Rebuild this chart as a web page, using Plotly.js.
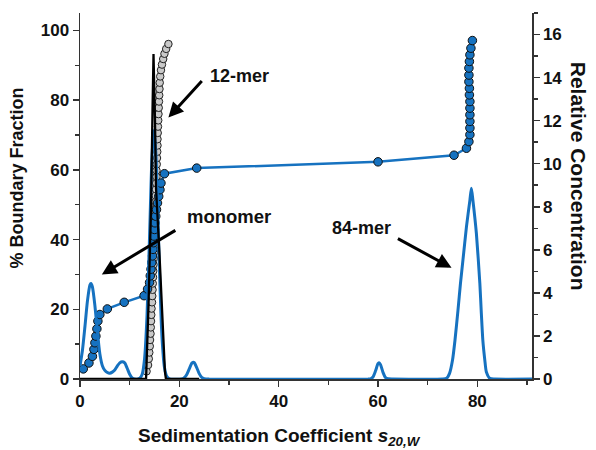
<!DOCTYPE html>
<html>
<head>
<meta charset="utf-8">
<script src="https://cdn.plot.ly/plotly-3.0.1.min.js"></script>
<style>html,body{margin:0;padding:0;background:#fff;}</style>
</head>
<body>
<div id="chart" style="width:596px;height:450px;"></div>
<script>
// Boundary fraction (blue, van Holde-Weischet of mixture)
const mixS = [0.66, 1.8, 2.5, 2.8, 3.0, 3.2, 3.4, 3.6, 4.0, 5.5,
  8.9, 12.9, 13.6, 14.0, 14.15, 14.3, 14.45, 14.6, 14.7, 14.8,
  14.9, 15.0, 15.1, 15.25, 15.4, 15.6, 15.85, 16.1, 16.3, 17.0,
  23.5, 60.0, 75.3, 77.8, 78.3, 78.5, 78.5, 78.5, 78.5, 78.5,
  78.5, 78.4, 78.4, 78.3, 78.3, 78.3, 78.4, 78.5, 78.7, 79.0];
const mixPct = [2.9, 4.6, 6.5, 8.5, 10.4, 12.3, 14.4, 16.6, 18.5, 20.1,
  22.0, 23.9, 25.8, 27.7, 29.6, 31.5, 33.4, 35.3, 37.2, 39.1,
  41.0, 42.9, 44.8, 46.7, 48.6, 50.5, 52.4, 54.3, 56.2, 58.9,
  60.5, 62.3, 64.2, 66.2, 68.1, 70.1, 72.0, 73.9, 75.8, 77.7,
  79.6, 81.5, 83.4, 85.3, 87.2, 89.2, 91.1, 93.0, 94.9, 97.1];

// Boundary fraction (gray, 12-mer alone)
const merS = [13.4, 13.7, 13.85, 13.95, 14.05, 14.1, 14.2, 14.25, 14.3, 14.35,
  14.4, 14.5, 14.55, 14.6, 14.65, 14.7, 14.75, 14.8, 14.85, 14.9,
  14.95, 15.0, 15.0, 15.05, 15.1, 15.15, 15.2, 15.2, 15.25, 15.3,
  15.35, 15.4, 15.4, 15.45, 15.5, 15.55, 15.6, 15.6, 15.65, 15.7,
  15.75, 15.8, 15.85, 15.9, 15.95, 16.0, 16.05, 16.15, 16.3, 16.5,
  16.75, 17.0, 17.35, 17.8];
const merPct = [2.2, 4.0, 5.8, 7.6, 9.4, 11.2, 13.0, 14.8, 16.6, 18.4,
  20.2, 22.0, 23.8, 25.6, 27.4, 29.2, 31.0, 32.8, 34.6, 36.4,
  38.2, 40.0, 41.8, 43.6, 45.4, 47.2, 49.0, 50.8, 52.6, 54.4,
  56.2, 58.0, 59.8, 61.6, 63.4, 65.2, 67.0, 68.8, 70.6, 72.4,
  74.2, 76.0, 77.8, 79.6, 81.4, 83.2, 85.0, 86.8, 88.6, 90.2,
  91.8, 93.3, 94.7, 96.1];

// Relative concentration, 12-mer alone (black)
const blkS = [0, 13.3, 13.8, 14.3, 14.6, 14.8, 15.1, 15.3, 16.0, 16.6, 17.1, 17.3, 24];
const blkC = [0, 0, 3.5, 8.0, 12.5, 15.1, 12.0, 8.9, 5.8, 2.6, 0.34, 0, 0];

// Relative concentration, mixture (blue)
const concS = [0, 0.5, 1.0, 1.5, 2.0, 2.2, 2.5, 3.0, 3.5, 4.0,
  4.5, 5.0, 5.5, 6.0, 6.5, 7.0, 7.5, 8.0, 8.5, 9.0,
  9.5, 10.0, 10.5, 11.0, 12.0, 12.5, 13.0, 13.5, 14.0, 14.5,
  14.9, 15.3, 15.7, 16.0, 16.5, 17.0, 17.5, 18.0, 20.5, 21.0,
  21.5, 22.0, 22.5, 22.8, 23.0, 23.5, 24.0, 24.5, 25.0, 26.0,
  58.0, 58.5, 59.0, 59.5, 60.0, 60.2, 60.5, 61.0, 61.5, 62.0,
  63.0, 73.0, 73.8, 74.4, 75.0, 75.5, 76.1, 76.6, 77.1, 77.8,
  78.5, 78.8, 79.1, 79.8, 80.5, 80.8, 81.1, 81.5, 81.8, 82.5,
  83.5, 91];
const concC = [0.6, 1.35, 2.45, 3.63, 4.37, 4.44, 4.28, 3.41, 2.21, 1.16,
  0.62, 0.4, 0.3, 0.27, 0.32, 0.42, 0.6, 0.75, 0.8, 0.75,
  0.5, 0.22, 0.05, 0, 0.03, 0.21, 0.95, 2.98, 6.61, 10.36,
  11.57, 10.36, 7.43, 5.01, 1.97, 0.55, 0.11, 0, 0, 0.06,
  0.21, 0.47, 0.73, 0.78, 0.76, 0.53, 0.25, 0.08, 0.02, 0,
  0, 0.01, 0.10, 0.38, 0.72, 0.76, 0.67, 0.31, 0.07, 0.01,
  0, 0, 0.03, 0.26, 0.88, 1.81, 3.2, 4.44, 5.53, 7.07,
  8.31, 8.86, 8.31, 6.77, 4.44, 3.05, 1.81, 0.88, 0.34, 0.03,
  0, 0];

const xTicks = [0, 20, 40, 60, 80];
const pctTicks = [0, 20, 40, 60, 80, 100];
const concTicks = [0, 2, 4, 6, 8, 10, 12, 14, 16];

const BLUE = '#1672c0';
const FONT = 'Liberation Sans, Arial, Helvetica, sans-serif';
const tickFont = {family: FONT, size: 17, color: '#111', weight: 'bold'};

const traces = [
  {x: merS, y: merPct, type: 'scatter', mode: 'markers', xaxis: 'x', yaxis: 'y',
   marker: {color: '#c9c9c9', size: 7.5, line: {color: '#222', width: 1}}, hoverinfo: 'skip'},
  {x: mixS, y: mixPct, type: 'scatter', mode: 'lines+markers', xaxis: 'x', yaxis: 'y',
   line: {color: BLUE, width: 2.5},
   marker: {color: BLUE, size: 8.5, line: {color: '#111', width: 1}}, hoverinfo: 'skip'},
  {x: concS, y: concC, type: 'scatter', mode: 'lines', xaxis: 'x', yaxis: 'y2',
   line: {color: BLUE, width: 3, shape: 'spline', smoothing: 0.6}, hoverinfo: 'skip'},
  {x: blkS, y: blkC, type: 'scatter', mode: 'lines', xaxis: 'x', yaxis: 'y2',
   line: {color: '#000', width: 2.3}, hoverinfo: 'skip'}
];

const axisCommon = {
  showline: true, linecolor: '#333', linewidth: 1.5, ticks: 'outside', ticklen: 6,
  tickwidth: 1.5, tickcolor: '#333', showgrid: false, zeroline: false,
  tickfont: tickFont, fixedrange: true
};

const layout = {
  width: 596, height: 450,
  margin: {l: 80, r: 64, t: 13, b: 71},
  paper_bgcolor: '#fff', plot_bgcolor: '#fff',
  showlegend: false,
  xaxis: Object.assign({}, axisCommon, {
    range: [0, 91], tickmode: 'array', tickvals: xTicks, ticktext: xTicks.map(String),
    minor: {tickmode: 'linear', tick0: 0, dtick: 10, ticks: 'outside', ticklen: 4, tickwidth: 1.5, tickcolor: '#333'}
  }),
  yaxis: Object.assign({}, axisCommon, {
    range: [0, 105], side: 'left', tickmode: 'array', tickvals: pctTicks, ticktext: pctTicks.map(String),
    minor: {tickmode: 'linear', tick0: 0, dtick: 10, ticks: 'outside', ticklen: 4, tickwidth: 1.5, tickcolor: '#333'}
  }),
  yaxis2: Object.assign({}, axisCommon, {
    range: [0, 17], side: 'right', overlaying: 'y', tickmode: 'array', tickvals: concTicks, ticktext: concTicks.map(String),
    minor: {tickmode: 'linear', tick0: 0, dtick: 1, ticks: 'outside', ticklen: 4, tickwidth: 1.5, tickcolor: '#333'}
  }),
  annotations: [
    {xref: 'paper', yref: 'paper', x: -0.139, y: 0.548, text: '% Boundary Fraction', textangle: -90,
     showarrow: false, xanchor: 'center', yanchor: 'middle',
     font: {family: FONT, size: 18, color: '#111', weight: 'bold'}},
    {xref: 'paper', yref: 'paper', x: 1.102, y: 0.555, text: 'Relative Concentration', textangle: 90,
     showarrow: false, xanchor: 'center', yanchor: 'middle',
     font: {family: FONT, size: 21, color: '#111', weight: 'bold'}},
    {xref: 'paper', yref: 'paper', x: 0.442, y: -0.158,
     text: 'Sedimentation Coefficient <i>s</i><sub><i>20,W</i></sub>',
     showarrow: false, xanchor: 'center', yanchor: 'middle',
     font: {family: FONT, size: 19, color: '#111', weight: 'bold'}},
    // labels
    {xref: 'x', yref: 'y', x: 25.75, y: 86.9, text: '12-mer', showarrow: false, xanchor: 'left', yanchor: 'middle',
     font: {family: FONT, size: 18, color: '#111', weight: 'bold'}},
    {xref: 'x', yref: 'y', x: 21.1, y: 46.7, text: 'monomer', showarrow: false, xanchor: 'left', yanchor: 'middle',
     font: {family: FONT, size: 18.5, color: '#111', weight: 'bold'}},
    {xref: 'x', yref: 'y', x: 50.3, y: 43.4, text: '84-mer', showarrow: false, xanchor: 'left', yanchor: 'middle',
     font: {family: FONT, size: 18, color: '#111', weight: 'bold'}},
    // arrows
    {xref: 'x', yref: 'y', axref: 'x', ayref: 'y', x: 17.8, y: 75.0, ax: 24.8, ay: 85.9, text: '',
     showarrow: true, arrowhead: 2, arrowsize: 1, arrowwidth: 3, arrowcolor: '#000', standoff: 0, startstandoff: 0},
    {xref: 'x', yref: 'y', axref: 'x', ayref: 'y', x: 4.4, y: 30.0, ax: 19.5, ay: 42.9, text: '',
     showarrow: true, arrowhead: 2, arrowsize: 1, arrowwidth: 3, arrowcolor: '#000', standoff: 0, startstandoff: 0},
    {xref: 'x', yref: 'y', axref: 'x', ayref: 'y', x: 74.8, y: 31.9, ax: 63.7, ay: 40.5, text: '',
     showarrow: true, arrowhead: 2, arrowsize: 1, arrowwidth: 3, arrowcolor: '#000', standoff: 0, startstandoff: 0}
  ]
};

Plotly.newPlot('chart', traces, layout, {staticPlot: true, displayModeBar: false});
</script>
</body>
</html>
